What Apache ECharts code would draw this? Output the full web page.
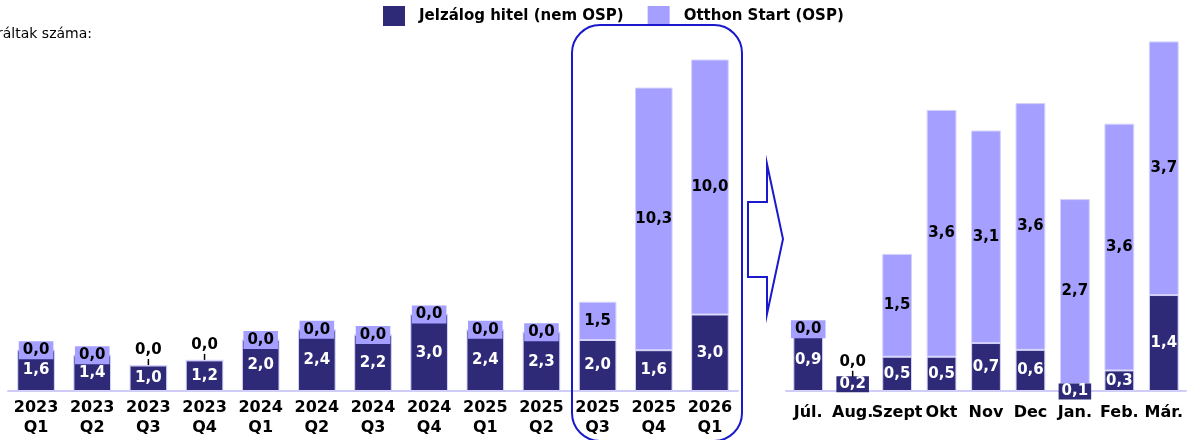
<!DOCTYPE html>
<html>
<head>
<meta charset="utf-8">
<script src="https://cdn.jsdelivr.net/npm/echarts@6/dist/echarts.min.js"></script>
<style>
  html, body { margin: 0; padding: 0; background: #fff; }
  #chart { width: 1189px; height: 440px; }
</style>
</head>
<body>
<div id="chart"></div>
<script>
// adatok
const quarters = ['2023\nQ1', '2023\nQ2', '2023\nQ3', '2023\nQ4', '2024\nQ1', '2024\nQ2', '2024\nQ3',
  '2024\nQ4', '2025\nQ1', '2025\nQ2', '2025\nQ3', '2025\nQ4', '2026\nQ1'];
const qMortgage = [1.6, 1.4, 1.0, 1.2, 2.0, 2.4, 2.2, 3.0, 2.4, 2.3, 2.0, 1.6, 3.0];
const qOsp = [0.0, 0.0, 0.0, 0.0, 0.0, 0.0, 0.0, 0.0, 0.0, 0.0, 1.5, 10.3, 10.0];

const months = ['Júl.', 'Aug.', 'Szept', 'Okt', 'Nov', 'Dec', 'Jan.', 'Feb.', 'Már.'];
const mMortgage = [0.9, 0.2, 0.5, 0.5, 0.7, 0.6, 0.1, 0.3, 1.4];
const mOsp = [0.0, 0.0, 1.5, 3.6, 3.1, 3.6, 2.7, 3.6, 3.7];

const DARK = '#2e2a78';
const LIGHT = '#a5a0ff';
const BLUE = '#1a1acc';
const FONT = 'DejaVu Sans';

const fmt = v => v.toFixed(1).replace('.', ',');

// a 0,0 cimkek: egyeseknel doboz, masoknal vonalka
function ospData(values, leaderIdx) {
  return values.map((v, i) => {
    if (v !== 0) return v;
    if (leaderIdx.indexOf(i) >= 0) {
      return {
        value: v,
        label: {
          position: 'top', distance: 0,
          formatter: '{a|0,0}\n{l|}',
          rich: {
            a: { fontFamily: FONT, fontWeight: 'bold', fontSize: 15, color: '#000', lineHeight: 17 },
            l: { width: 1.5, height: 6, backgroundColor: '#000' }
          }
        }
      };
    }
    return {
      value: v,
      label: { position: 'inside', backgroundColor: LIGHT, padding: [2, 4, 1, 4] }
    };
  });
}

function mortgageData(values, boxed) {
  return values.map((v, i) => {
    if (boxed[i] === undefined) return v;
    return {
      value: v,
      label: { backgroundColor: DARK, padding: [1, 3, 0, 3], offset: [0, boxed[i]] }
    };
  });
}

const chart = echarts.init(document.getElementById('chart'));

const barBase = {
  type: 'bar',
  barWidth: '67%',
  itemStyle: { borderColor: '#d4d2fb', borderWidth: 1 },
  label: {
    show: true,
    position: 'inside',
    fontFamily: FONT,
    fontWeight: 'bold',
    fontSize: 15,
    formatter: p => fmt(p.value)
  }
};

function darkSeries(xi, data) {
  return Object.assign({}, barBase, {
    name: 'Jelzálog hitel (nem OSP)', stack: 's' + xi, xAxisIndex: xi, yAxisIndex: xi,
    itemStyle: Object.assign({}, barBase.itemStyle, { color: DARK }),
    label: Object.assign({}, barBase.label, { color: '#fff' }),
    data: data
  });
}
function lightSeries(xi, data) {
  return Object.assign({}, barBase, {
    name: 'Otthon Start (OSP)', stack: 's' + xi, xAxisIndex: xi, yAxisIndex: xi,
    itemStyle: Object.assign({}, barBase.itemStyle, { color: LIGHT }),
    label: Object.assign({}, barBase.label, { color: '#000' }),
    data: data
  });
}

const axisLabel = {
  interval: 0, color: '#000', fontFamily: FONT, fontWeight: 'bold', fontSize: 16, lineHeight: 20
};

chart.setOption({
  animation: false,
  legend: {
    left: 383, top: 6, padding: 0,
    itemWidth: 22, itemHeight: 20, itemGap: 24,
    icon: 'rect',
    itemStyle: { borderWidth: 0 },
    data: ['Jelzálog hitel (nem OSP)', 'Otthon Start (OSP)'],
    textStyle: { fontFamily: FONT, fontWeight: 'bold', fontSize: 15, color: '#000', padding: [0, 0, 0, 9] }
  },
  grid: [
    { left: 8, width: 730, top: 34, bottom: 49 },
    { left: 786, width: 400, top: 14, bottom: 49 }
  ],
  xAxis: [
    {
      gridIndex: 0, type: 'category', data: quarters,
      axisLine: { lineStyle: { color: '#cfcdf7', width: 2 } },
      axisTick: { show: false },
      axisLabel: Object.assign({}, axisLabel, { margin: 7 })
    },
    {
      gridIndex: 1, type: 'category', data: months,
      axisLine: { lineStyle: { color: '#cfcdf7', width: 2 } },
      axisTick: { show: false },
      axisLabel: Object.assign({}, axisLabel, { margin: 12 })
    }
  ],
  yAxis: [
    { gridIndex: 0, type: 'value', min: 0, max: 14, show: false },
    { gridIndex: 1, type: 'value', min: 0, max: 5.5, show: false }
  ],
  series: [
    darkSeries(0, qMortgage),
    lightSeries(0, ospData(qOsp, [2, 3])),
    darkSeries(1, mortgageData(mMortgage, { 1: 0, 6: 4 })),
    lightSeries(1, ospData(mOsp, [1]))
  ],
  graphic: [
    {
      type: 'text', left: -3, top: 27,
      style: { text: 'ráltak száma:', fontFamily: FONT, fontSize: 14, fill: '#000' }
    },
    {
      type: 'rect', shape: { x: 572, y: 25, width: 170, height: 416, r: 28 },
      style: { fill: 'none', stroke: BLUE, lineWidth: 2 }, z: 10
    },
    {
      type: 'polygon',
      shape: { points: [[748, 202], [767, 202], [767, 164], [783, 239], [767, 314], [767, 277], [748, 277]] },
      style: { fill: '#fff', stroke: BLUE, lineWidth: 2 }, z: 10
    }
  ]
});
</script>
</body>
</html>
